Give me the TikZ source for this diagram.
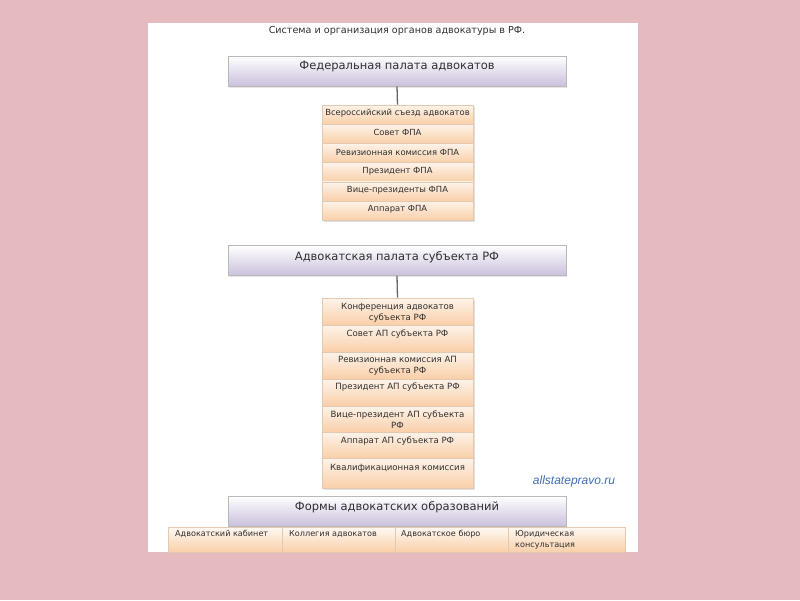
\documentclass[tikz,border=0pt]{standalone}
\usepackage{fontspec}
\setmainfont{DejaVu Sans}
\newfontfamily\wmfont{Liberation Sans}
\usetikzlibrary{shadows}
\definecolor{bgpink}{HTML}{E5BBBF}
\definecolor{lav}{HTML}{CAC0DC}
\definecolor{peach}{HTML}{F9CFA8}
\definecolor{txtc}{HTML}{303030}
\definecolor{wmc}{HTML}{3F6FB8}
\definecolor{rowline}{HTML}{E3C8B2}
\begin{document}
\begin{tikzpicture}[x=1pt,y=-1pt,
  hdr/.style={draw=gray!55, line width=0.8pt, top color=white, bottom color=lav,
    minimum width=338pt, minimum height=30pt, inner sep=0pt,
    drop shadow={opacity=0.2,shadow xshift=1pt,shadow yshift=-1.5pt}},
  hdrtxt/.style={font=\fontsize{11.5}{13}\selectfont, text=txtc, inner sep=0pt},
  rowbox/.style={draw=rowline, line width=0.6pt, top color=white!75!peach, bottom color=peach,
    minimum width=151pt, inner sep=0pt},
  rowtxt/.style={font=\fontsize{8.6}{11}\selectfont, text=txtc, inner sep=0pt, align=center},
  cellbox/.style={draw=rowline, line width=0.6pt, top color=white!85!peach, bottom color=peach,
    inner sep=0pt, anchor=north west},
  celltxt/.style={font=\fontsize{8.1}{11.5}\selectfont, text=txtc, inner sep=0pt, anchor=north west, align=left},
  conn/.style={draw=gray!80!black, line width=1.3pt}
]
% background
\fill[bgpink] (0,0) rectangle (800,600);
\fill[white] (148,23) rectangle (638,552);
\useasboundingbox (0,0) rectangle (800,600);

% title
\node[font=\fontsize{9.6}{12}\selectfont, text=txtc, inner sep=0pt] (title) at (397,31) {Система и организация органов адвокатуры в РФ.};

% header 1
\node[hdr] (h1) at (397,71) {};
\node[hdrtxt] (h1t) at (397,67) {Федеральная палата адвокатов};

% stack 1
\fill[black, opacity=0.12] (324,107) rectangle (475,222);
\foreach \i/\t in {1/Всероссийский съезд адвокатов,2/Совет ФПА,3/Ревизионная комиссия ФПА,4/Президент ФПА,5/Вице-президенты ФПА,6/Аппарат ФПА}{
  \node[rowbox, minimum height=19.2pt] (a\i) at (397.5,{105+19.2*(\i-0.5)}) {};
  \node[rowtxt, font=\fontsize{8.4}{11}\selectfont] (a\i t) at (397.5,{105+19.2*(\i-0.5)-1}) {\t};
}
\draw[conn] (h1.south) -- (a1.north);

% header 2
\node[hdr] (h2) at (397,260.5) {};
\node[hdrtxt] (h2t) at (397,257) {Адвокатская палата субъекта РФ};

% stack 2
\fill[black, opacity=0.12] (324,300) rectangle (475,490);
\node[rowbox, minimum height=27pt] (b1) at (397.5,311.5) {};
\node[rowbox, minimum height=27pt] (b2) at (397.5,338.5) {};
\node[rowbox, minimum height=27pt] (b3) at (397.5,365.5) {};
\node[rowbox, minimum height=27pt] (b4) at (397.5,392.5) {};
\node[rowbox, minimum height=26pt] (b5) at (397.5,419) {};
\node[rowbox, minimum height=26pt] (b6) at (397.5,445) {};
\node[rowbox, minimum height=30pt] (b7) at (397.5,473) {};
\node[rowtxt] (b1t) at (397.5,312.5) {Конференция адвокатов\\субъекта РФ};
\node[rowtxt] (b2t) at (397.5,334) {Совет АП субъекта РФ};
\node[rowtxt] (b3t) at (397.5,365.5) {Ревизионная комиссия АП\\субъекта РФ};
\node[rowtxt] (b4t) at (397.5,387) {Президент АП субъекта РФ};
\node[rowtxt] (b5t) at (397.5,419.5) {Вице-президент АП субъекта\\РФ};
\node[rowtxt] (b6t) at (397.5,441) {Аппарат АП субъекта РФ};
\node[rowtxt] (b7t) at (397.5,468) {Квалификационная комиссия};
\draw[conn] (h2.south) -- (b1.north);

% watermark
\node[font=\wmfont\itshape\fontsize{12}{14}\selectfont, text=wmc, inner sep=0pt] (wm) at (574,481) {allstatepravo.ru};

% header 3
\node[hdr] (h3) at (397,511) {};
\node[hdrtxt] (h3t) at (397,507) {Формы адвокатских образований};

% bottom cells
\node[cellbox, minimum width=114pt, minimum height=25pt] (c1) at (168,527) {};
\node[cellbox, minimum width=113pt, minimum height=25pt] (c2) at (282,527) {};
\node[cellbox, minimum width=113pt, minimum height=25pt] (c3) at (395,527) {};
\node[cellbox, minimum width=117pt, minimum height=25pt] (c4) at (508,527) {};
\node[celltxt] (c1t) at (175,530) {Адвокатский кабинет};
\node[celltxt] (c2t) at (289,530) {Коллегия адвокатов};
\node[celltxt] (c3t) at (401,530) {Адвокатское бюро};
\node[celltxt] (c4t) at (515,530) {Юридическая\\консультация};
\end{tikzpicture}
\end{document}
